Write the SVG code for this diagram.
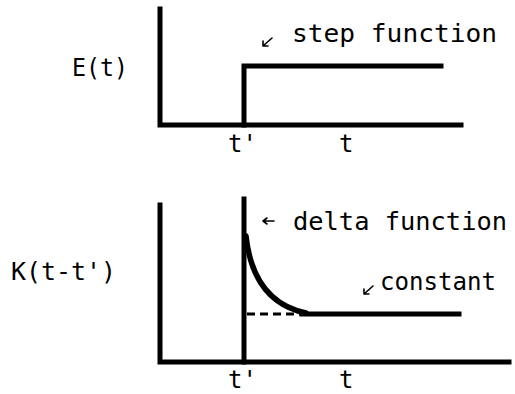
<svg xmlns="http://www.w3.org/2000/svg" width="515" height="394" viewBox="0 0 515 394">
<style>
  .ax { fill: none; stroke: #000; stroke-width: 5; stroke-linecap: square; }
  .cv { fill: none; stroke: #000; stroke-width: 5.5; stroke-linecap: round; }
  .dash { fill: none; stroke: #000; stroke-width: 3; stroke-dasharray: 8 5; }
  .ar { fill: none; stroke: #000; stroke-width: 1.6; stroke-linecap: round; }
  .lbl { font-family: "DejaVu Sans Mono", "Liberation Mono", monospace; font-size: 24px; fill: #000; }
</style>
<rect width="515" height="394" fill="#fff"/>
<g id="top-graph">
  <path class="ax" d="M160,9 V125 H461"/>
  <path class="ax" d="M244,125 V66 H441"/>
  <text class="lbl" x="72" y="76" textLength="56" lengthAdjust="spacingAndGlyphs">E(t)</text>
  <text class="lbl" x="228" y="152">t'</text>
  <text class="lbl" x="339" y="152">t</text>
  <text class="lbl" x="292" y="42" textLength="205" lengthAdjust="spacingAndGlyphs">step function</text>
</g>
<g id="bottom-graph">
  <path class="ax" d="M160,205 V362 H509"/>
  <path class="ax" d="M244,199 V362"/>
  <path class="cv" d="M246,236 C251,282 273,306 306,313"/>
  <path class="ax" d="M302,314 H459"/>
  <path class="dash" d="M247,314 H300"/>
  <text class="lbl" x="11" y="280" textLength="105" lengthAdjust="spacingAndGlyphs">K(t-t')</text>
  <text class="lbl" x="293" y="230" textLength="214" lengthAdjust="spacingAndGlyphs">delta function</text>
  <text class="lbl" x="380" y="290" textLength="116" lengthAdjust="spacingAndGlyphs">constant</text>
  <text class="lbl" x="228" y="388">t'</text>
  <text class="lbl" x="339" y="388">t</text>
</g>
<g id="connectors">
  <path class="ar" d="M272,38 L263,46 M263,46 L263,41 M263,46 L268,46"/>
  <path class="ar" d="M274,221 H263 M263,221 L267,218 M263,221 L267,224"/>
  <path class="ar" d="M373,286 L364,294 M364,294 L364,289 M364,294 L369,294"/>
</g>
</svg>
